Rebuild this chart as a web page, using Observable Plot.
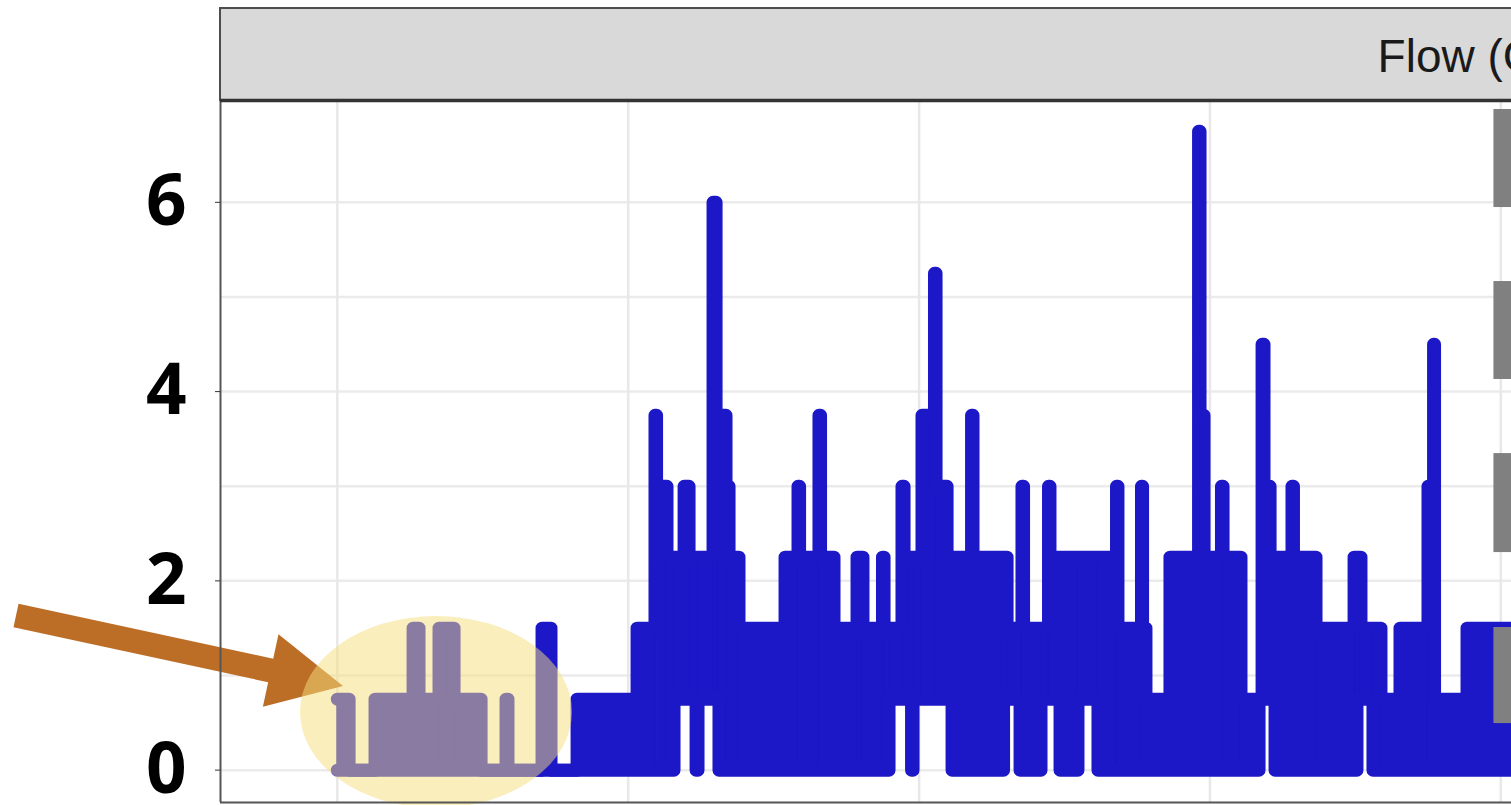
<!DOCTYPE html>
<html>
<head>
<meta charset="utf-8">
<script src="https://cdn.jsdelivr.net/npm/d3@7"></script>
<script src="https://cdn.jsdelivr.net/npm/@observablehq/plot@0.6"></script>
<style>
  html, body { margin: 0; padding: 0; background: #fff; overflow: hidden; }
  #chart svg { display: block; overflow: visible; max-width: none; }
</style>
</head>
<body>
<div id="chart"></div>
<script>
// ---- Data (hours since start of record) ----
// Upper envelope of the flow trace: value holds from each time until the next
const hiTimes = [0, 0.97, 3.11, 6.25, 6.74, 8.39, 9.63, 11.86, 13.92, 14.08, 16.89, 17.63, 19.78, 24.73, 26.21, 26.34, 27.20, 28.61, 29.02, 31.00, 31.25, 32.07, 32.32, 33.14, 36.94, 38.01, 38.14, 39.74, 39.87, 40.98, 42.88, 43.37, 44.98, 45.11, 46.59, 46.76, 48.24, 49.27, 49.40, 50.31, 52.33, 52.45, 55.26, 56.49, 56.62, 58.68, 58.80, 64.29, 64.41, 66.35, 66.44, 66.72, 68.70, 71.06, 71.18, 71.51, 72.95, 73.08, 74.56, 76.30, 76.46, 76.96, 78.77, 78.89, 80.75, 83.89, 84.46, 86.11, 87.68, 89.99, 90.45, 90.53, 93.21, 98];
const hiValues = [0.75, 0, 0.75, 1.5, 0.75, 1.5, 0.75, 0, 0.75, 0, 1.5, 0, 0.75, 1.5, 3.75, 3.0, 2.25, 3.0, 2.25, 6.0, 3.75, 3.0, 2.25, 1.5, 2.25, 3.0, 2.25, 3.75, 2.25, 1.5, 2.25, 1.5, 2.25, 1.5, 3.0, 2.25, 3.75, 5.25, 3.0, 2.25, 3.75, 2.25, 1.5, 3.0, 1.5, 3.0, 2.25, 3.0, 1.5, 3.0, 1.5, 0.75, 2.25, 6.75, 3.75, 2.25, 3.0, 2.25, 0.75, 4.5, 3.0, 2.25, 3.0, 2.25, 1.5, 2.25, 1.5, 0.75, 1.5, 3.0, 4.5, 0.75, 1.5, 1.5];
// Lower envelope of the flow trace
const loTimes = [0, 27.78, 29.60, 29.76, 31.49, 45.52, 47.38, 47.50, 50.72, 54.97, 56.33, 58.06, 59.63, 61.11, 62.76, 76.05, 77.37, 84.13, 85.45];
const loValues = [0, 0.75, 0, 0.75, 0, 0.75, 0, 0.75, 0, 0.75, 0, 0.75, 0, 0.75, 0, 0.75, 0, 0.75, 0];

const yTicks = [0, 2, 4, 6];
const yGrid = [0, 1, 2, 3, 4, 5, 6];
const xGrid = [0, 24, 48, 72, 96];
const stripLabel = "Flow (GPM)";

// Grey blocks at right edge (value ranges)
const greyBarBottom = [5.945, 4.128, 2.299, 0.492];
const greyBarTop = [6.981, 5.163, 3.345, 1.507];

// Highlight annotation (centre time, centre value, radius in hours, radius in value)
const highlight = {t: 8.18, v: 0.609, rt: 11.22, rv: 1.014};
// Arrow annotation (tail -> tip)
const arrowPts = {t1: -26.47, v1: 1.628, t2: 0.51, v2: 0.883};

// ---- Build table ----
const times = Array.from(new Set([...hiTimes, ...loTimes])).sort((a, b) => a - b);
const stepAt = (ts, vs, t) => { let v = vs[0]; for (let i = 0; i < ts.length; i++) if (ts[i] <= t) v = vs[i]; return v; };
const flow = times.map(t => ({t, hi: stepAt(hiTimes, hiValues, t), lo: stepAt(loTimes, loValues, t)}));
const bands = flow.slice(0, -1).map((d, i) => ({...d, t2: flow[i + 1].t}));
const greyBars = greyBarBottom.map((b, i) => ({b, top: greyBarTop[i]}));

const xDomain = [-9.64, 96.88];
const yDomain = [-0.342, 7.076];
const stripTop = 8.048;
const BLUE = "#1c18c8";

const ellipseMark = (index, scales) => {
  const cx = scales.x(highlight.t), cy = scales.y(highlight.v);
  const rx = Math.abs(scales.x(highlight.t + highlight.rt) - cx);
  const ry = Math.abs(scales.y(highlight.v + highlight.rv) - cy);
  return d3.create("svg:ellipse")
    .attr("cx", cx).attr("cy", cy).attr("rx", rx).attr("ry", ry)
    .attr("fill", "rgb(245,221,123)").attr("fill-opacity", 0.5).node();
};

const arrowMark = (index, scales) => {
  const x1 = scales.x(arrowPts.t1), y1 = scales.y(arrowPts.v1);
  const x2 = scales.x(arrowPts.t2), y2 = scales.y(arrowPts.v2);
  const len = Math.hypot(x2 - x1, y2 - y1);
  const ux = (x2 - x1) / len, uy = (y2 - y1) / len;
  const px = -uy, py = ux;
  const hw = 12, headLen = 74, headHalf = 37;
  const bx = x2 - ux * headLen, by = y2 - uy * headLen;
  const pts = [
    [x1 + px * hw, y1 + py * hw],
    [bx + px * hw, by + py * hw],
    [bx + px * headHalf, by + py * headHalf],
    [x2, y2],
    [bx - px * headHalf, by - py * headHalf],
    [bx - px * hw, by - py * hw],
    [x1 - px * hw, y1 - py * hw]
  ];
  return d3.create("svg:polygon")
    .attr("points", pts.map(p => p.join(",")).join(" "))
    .attr("fill", "#bc6e27").node();
};

const chart = Plot.plot({
  width: 1511,
  height: 805,
  marginLeft: 220,
  marginRight: 0,
  marginTop: 100,
  marginBottom: 3,
  x: {domain: xDomain, axis: null},
  y: {domain: yDomain, axis: null},
  style: {background: "white", overflow: "visible"},
  marks: [
    Plot.ruleY(yGrid, {stroke: "#ebebeb", strokeWidth: 2.5}),
    Plot.ruleX(xGrid, {stroke: "#e8e8e8", strokeWidth: 2.5}),
    Plot.rect(bands, {x1: "t", x2: "t2", y1: "lo", y2: "hi", fill: BLUE, stroke: BLUE, strokeWidth: 1}),
    Plot.line(flow, {x: "t", y: "hi", curve: "step-after", stroke: BLUE, strokeWidth: 13, strokeLinejoin: "round", strokeLinecap: "round"}),
    Plot.line(flow, {x: "t", y: "lo", curve: "step-after", stroke: BLUE, strokeWidth: 13, strokeLinejoin: "round", strokeLinecap: "round"}),
    Plot.rect(greyBars, {x1: () => 95.43, x2: () => 100, y1: "b", y2: "top", fill: "#808080"}),
    arrowMark,
    ellipseMark,
    Plot.ruleX([xDomain[0]], {stroke: "#555", strokeWidth: 2}),
    Plot.ruleY([yDomain[0]], {stroke: "#555", strokeWidth: 2}),
    Plot.axisY(yTicks, {anchor: "left", tickSize: 5, tickPadding: 29, tickFormat: d3.format("d"), fontSize: 71, fontWeight: "bold", fontFamily: "Open Sans", stroke: "#333", label: null}),
    Plot.rect([stripLabel], {x1: () => xDomain[0], x2: () => 110, y1: () => yDomain[1], y2: () => stripTop, fill: "#d9d9d9", stroke: "#4d4d4d", strokeWidth: 2}),
    Plot.ruleY([yDomain[1]], {stroke: "#333", strokeWidth: 3.5}),
    Plot.text([stripLabel], {x: () => 85.83, y: () => 7.53, text: d => d, textAnchor: "start", lineAnchor: "middle", fontSize: 46, fontFamily: "Liberation Sans, Arial, sans-serif", fill: "#1a1a1a", letterSpacing: "-0.5px"})
  ]
});
document.getElementById("chart").appendChild(chart);
</script>
</body>
</html>
